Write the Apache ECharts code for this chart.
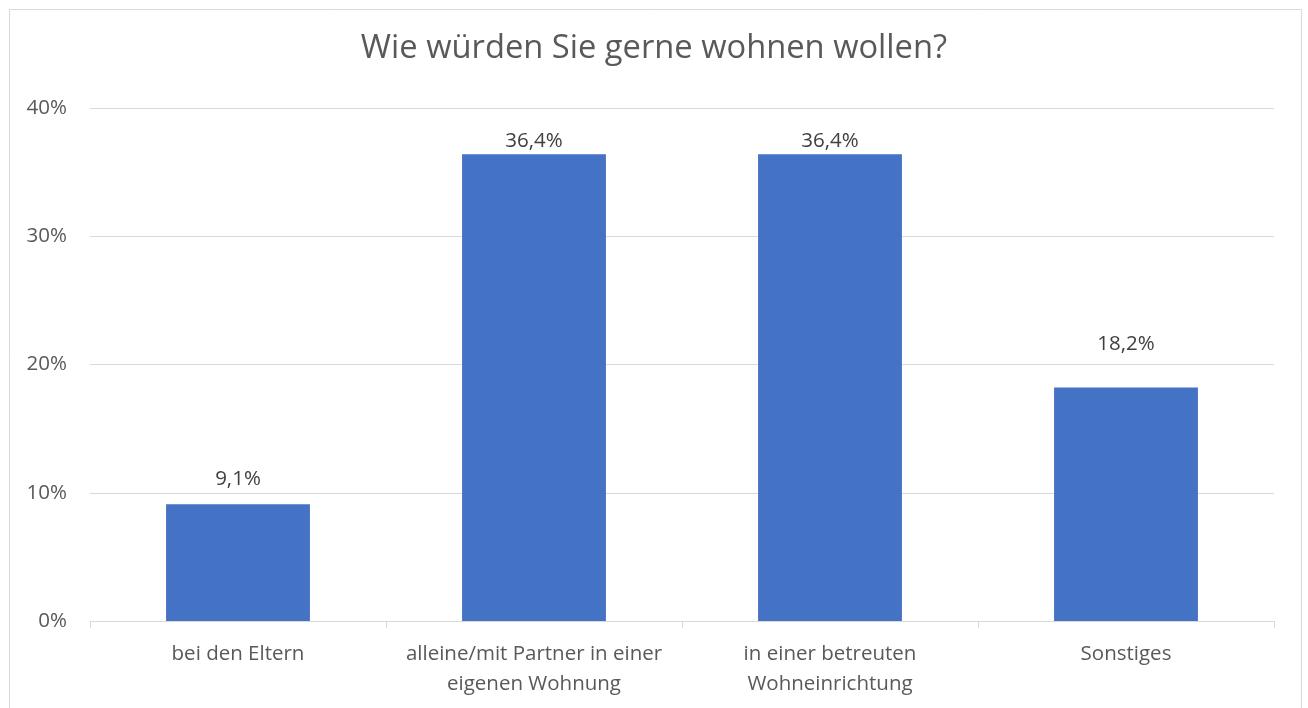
<!DOCTYPE html>
<html><head><meta charset="utf-8">
<script src="https://cdn.jsdelivr.net/npm/echarts@6/dist/echarts.min.js"></script>
<style>html,body{margin:0;padding:0;background:#fff;}#c{width:1308px;height:708px;}</style>
</head><body><div id="c"></div>
<script>
const categories = ['bei den Eltern', 'alleine/mit Partner in einer\neigenen Wohnung', 'in einer betreuten\nWohneinrichtung', 'Sonstiges'];
const values = [9.1, 36.4, 36.4, 18.2];
const yTicks = [0, 10, 20, 30, 40];
const titleText = 'Wie würden Sie gerne wohnen wollen?';

// label placement tweaks (styling only)
const labelDy = [-8, 4, 4, -26];

const font = '"Open Sans", "Noto Sans", sans-serif';
const chart = echarts.init(document.getElementById('c'), null, {renderer: 'canvas'});
chart.setOption({
  animation: false,
  textStyle: {fontFamily: font},
  graphic: [{type: 'rect', shape: {x: 9.5, y: 9.5, width: 1292, height: 720}, style: {fill: 'none', stroke: '#d9d9d9', lineWidth: 1}, silent: true}],
  title: {text: titleText, left: 'center', top: 27, textStyle: {fontFamily: font, fontSize: 32.7, fontWeight: 'normal', color: '#595959'}},
  grid: {left: 90, right: 34, top: 108, bottom: 87, containLabel: false},
  xAxis: {
    type: 'category', data: categories,
    axisLine: {lineStyle: {color: '#d9d9d9', width: 1}},
    axisTick: {show: true, length: 7, interval: 0, lineStyle: {color: '#d9d9d9'}},
    axisLabel: {interval: 0, color: '#595959', fontSize: 20.5, lineHeight: 30, margin: 18, fontFamily: font}
  },
  yAxis: {
    type: 'value', min: yTicks[0], max: yTicks[yTicks.length - 1], interval: 10,
    axisLine: {show: false}, axisTick: {show: false},
    splitLine: {lineStyle: {color: '#d9d9d9', width: 1}},
    axisLabel: {formatter: v => v + '%', color: '#595959', fontSize: 20.5, margin: 23, fontFamily: font}
  },
  series: [{
    type: 'bar',
    data: values.map((v, i) => ({value: v, label: {offset: [0, labelDy[i]]}})),
    barWidth: '48.6%',
    itemStyle: {color: '#4472c4'},
    label: {show: true, position: 'top', distance: 7, color: '#404040', fontSize: 20.5, fontFamily: font,
      formatter: p => p.value.toFixed(1).replace('.', ',') + '%'}
  }]
});
</script></body></html>
